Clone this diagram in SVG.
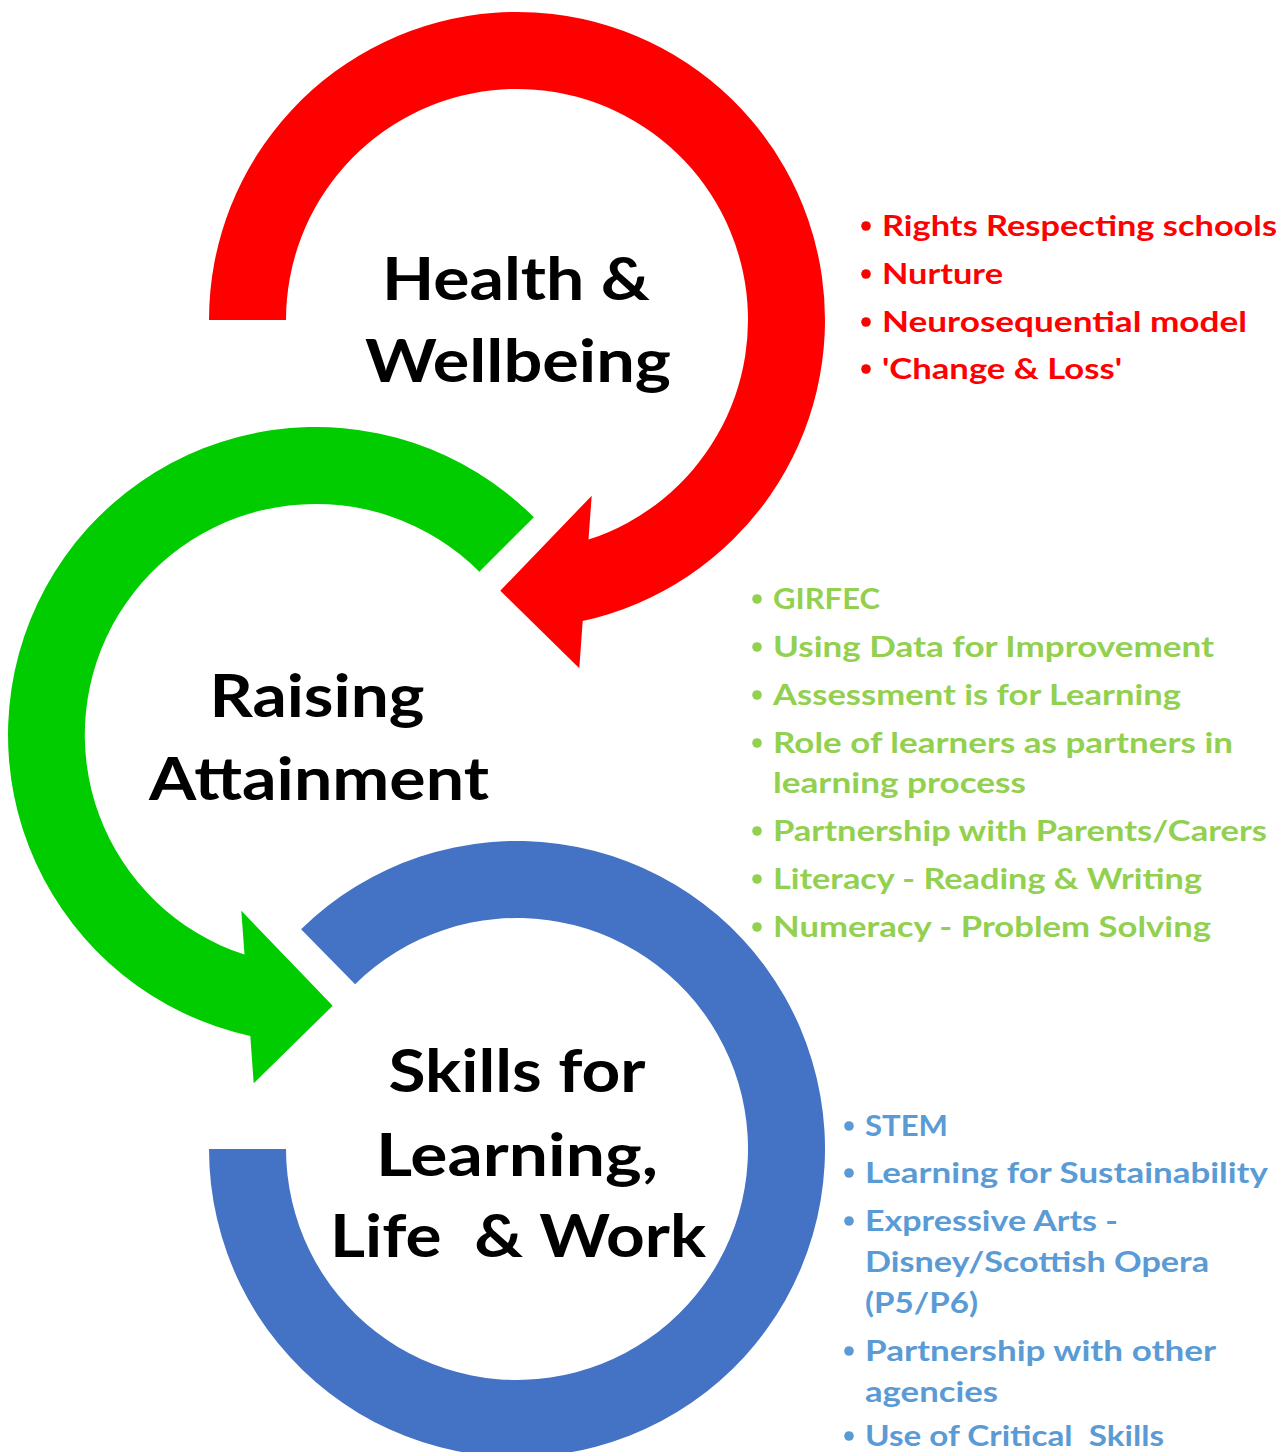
<svg xmlns="http://www.w3.org/2000/svg" width="1288" height="1452" viewBox="0 0 1288 1452">
<style>
.lbl{font-family:Lato,"Open Sans","Liberation Sans",sans-serif;font-weight:700;font-size:60px;fill:#000;text-anchor:middle}
.li{font-family:Lato,"Open Sans","Liberation Sans",sans-serif;font-weight:700;font-size:28px}
.red{fill:#FF0000}
.grn{fill:#92D050}
.blu{fill:#5B9BD5}
</style>
<defs>
<circle id="dot" r="4.8"/>
</defs>
<rect width="1288" height="1452" fill="#fff"/>
<g id="health-wellbeing">
<path fill="#FF0000" d="M 209,320 A 308 308 0 1 1 582.7,620.9 L 579.3,668.3 L 500.3,590.7 L 591.7,495.7 L 588.5,539.6 A 231 231 0 1 0 286,320 Z"/>
<text class="lbl" x="516" y="300" textLength="268" lengthAdjust="spacingAndGlyphs">Health &amp;</text>
<text class="lbl" x="518" y="382" textLength="306" lengthAdjust="spacingAndGlyphs">Wellbeing</text>
</g>
<g id="raising-attainment">
<path fill="#00CC00" d="M 533.8,517.2 A 308 308 0 1 0 250.3,1035.9 L 253.7,1083.3 L 332.7,1005.7 L 241.3,910.7 L 244.5,954.6 A 231 231 0 1 1 479.3,571.7 Z"/>
<text class="lbl" x="317" y="717" textLength="215" lengthAdjust="spacingAndGlyphs">Raising</text>
<text class="lbl" x="319" y="800" textLength="340" lengthAdjust="spacingAndGlyphs">Attainment</text>
</g>
<g id="skills">
<path fill="#4472C4" d="M 209,1149 A 308 308 0 1 0 301.1,929.3 L 355.1,984.2 A 231 231 0 1 1 286,1149 Z"/>
<text class="lbl" x="517" y="1092" textLength="257" lengthAdjust="spacingAndGlyphs">Skills for</text>
<text class="lbl" x="517" y="1176" textLength="282" lengthAdjust="spacingAndGlyphs">Learning,</text>
<text class="lbl" x="518" y="1257" textLength="376" lengthAdjust="spacingAndGlyphs" xml:space="preserve">Life  &amp; Work</text>
</g>
<g id="health-list" class="red">
<use href="#dot" x="866" y="226"/><text class="li" x="882" y="236" textLength="395" lengthAdjust="spacingAndGlyphs">Rights Respecting schools</text>
<use href="#dot" x="866" y="274"/><text class="li" x="882" y="284" textLength="121" lengthAdjust="spacingAndGlyphs">Nurture</text>
<use href="#dot" x="866" y="322"/><text class="li" x="882" y="332" textLength="365" lengthAdjust="spacingAndGlyphs">Neurosequential model</text>
<use href="#dot" x="866" y="369"/><text class="li" x="882" y="379" textLength="240" lengthAdjust="spacingAndGlyphs">'Change &amp; Loss'</text>
</g>
<g id="attainment-list" class="grn">
<use href="#dot" x="757" y="599"/><text class="li" x="773" y="609" textLength="107" lengthAdjust="spacingAndGlyphs">GIRFEC</text>
<use href="#dot" x="757" y="647"/><text class="li" x="773" y="657" textLength="441" lengthAdjust="spacingAndGlyphs">Using Data for Improvement</text>
<use href="#dot" x="757" y="695"/><text class="li" x="773" y="705" textLength="408" lengthAdjust="spacingAndGlyphs">Assessment is for Learning</text>
<use href="#dot" x="757" y="743"/><text class="li" x="773" y="753" textLength="460" lengthAdjust="spacingAndGlyphs">Role of learners as partners in</text>
<text class="li" x="773" y="793" textLength="253" lengthAdjust="spacingAndGlyphs">learning process</text>
<use href="#dot" x="757" y="831"/><text class="li" x="773" y="841" textLength="494" lengthAdjust="spacingAndGlyphs">Partnership with Parents/Carers</text>
<use href="#dot" x="757" y="879"/><text class="li" x="773" y="889" textLength="429" lengthAdjust="spacingAndGlyphs">Literacy - Reading &amp; Writing</text>
<use href="#dot" x="757" y="927"/><text class="li" x="773" y="937" textLength="438" lengthAdjust="spacingAndGlyphs">Numeracy - Problem Solving</text>
</g>
<g id="skills-list" class="blu">
<use href="#dot" x="849" y="1126"/><text class="li" x="865" y="1136" textLength="83" lengthAdjust="spacingAndGlyphs">STEM</text>
<use href="#dot" x="849" y="1173"/><text class="li" x="865" y="1183" textLength="403" lengthAdjust="spacingAndGlyphs">Learning for Sustainability</text>
<use href="#dot" x="849" y="1221"/><text class="li" x="865" y="1231" textLength="253" lengthAdjust="spacingAndGlyphs">Expressive Arts -</text>
<text class="li" x="865" y="1272" textLength="344" lengthAdjust="spacingAndGlyphs">Disney/Scottish Opera</text>
<text class="li" x="865" y="1313" textLength="113" lengthAdjust="spacingAndGlyphs">(P5/P6)</text>
<use href="#dot" x="849" y="1351"/><text class="li" x="865" y="1361" textLength="351" lengthAdjust="spacingAndGlyphs">Partnership with other</text>
<text class="li" x="865" y="1402" textLength="133" lengthAdjust="spacingAndGlyphs">agencies</text>
<use href="#dot" x="849" y="1436"/><text class="li" x="865" y="1446" textLength="299" lengthAdjust="spacingAndGlyphs" xml:space="preserve">Use of Critical  Skills</text>
</g>
</svg>
